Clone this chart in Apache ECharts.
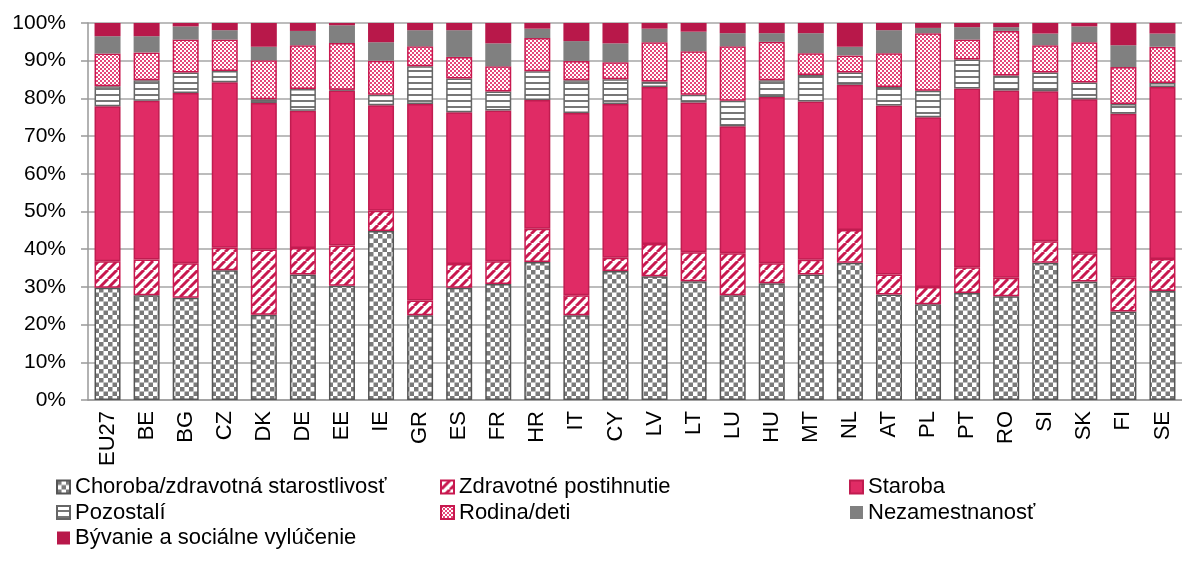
<!DOCTYPE html>
<html>
<head>
<meta charset="utf-8">
<script src="https://cdn.jsdelivr.net/npm/echarts@6.0.0/dist/echarts.min.js"></script>
<style>
  html, body { margin: 0; padding: 0; background: #fff; }
  #chart { width: 1182px; height: 565px; }
</style>
</head>
<body>
<div id="chart"></div>
<script>
  "use strict";

  const categories = ['EU27','BE','BG','CZ','DK','DE','EE','IE','GR','ES','FR','HR','IT','CY','LV','LT','LU','HU','MT','NL','AT','PL','PT','RO','SI','SK','FI','SE'];

  const choroba   = [29.8,27.8,27.1,34.4,22.6,33.3,30.3,44.8,22.5,29.8,30.8,36.6,22.5,34.2,32.8,31.5,27.8,31.0,33.3,36.4,28.0,25.4,28.4,27.5,36.4,31.4,23.5,28.9];
  const zdravotne = [7.0,9.5,9.2,6.0,17.3,7.0,10.7,5.4,3.9,6.3,6.0,8.8,5.3,3.5,8.6,7.7,11.1,5.3,3.9,8.7,5.3,4.6,6.8,4.9,5.7,7.5,8.9,8.5];
  const staroba   = [41.1,42.1,45.1,43.9,38.9,36.4,41.1,28.0,52.1,40.2,40.0,34.2,48.3,40.8,41.6,39.7,33.7,44.1,42.0,38.5,44.8,45.0,47.4,49.7,39.8,40.9,43.5,45.6];
  const pozostali = [5.3,5.4,5.5,3.0,1.0,5.8,0.2,2.8,10.0,9.0,5.0,7.6,8.7,6.6,1.5,2.1,6.8,4.4,7.0,3.3,4.9,7.0,7.7,4.0,5.0,4.4,2.6,1.1];
  const rodina    = [8.7,7.4,8.7,8.3,10.3,11.6,12.4,9.0,5.3,5.7,6.7,8.8,5.1,4.5,10.4,11.5,14.4,10.2,5.8,4.5,9.0,15.3,5.3,11.8,7.2,10.7,9.8,9.6];
  const nezam     = [4.6,4.3,3.5,2.5,3.6,3.8,4.7,4.9,4.3,7.1,6.1,2.5,5.3,5.0,3.6,5.2,3.5,2.3,5.3,2.3,6.1,1.4,3.3,1.0,3.1,4.2,5.8,3.5];
  const byvanie   = [3.5,3.5,0.9,1.9,6.3,2.1,0.6,5.1,1.9,1.9,5.4,1.5,4.8,5.4,1.5,2.3,2.7,2.7,2.7,6.3,1.9,1.3,1.1,1.1,2.8,0.9,5.9,2.8];

  const yTicks = [0, 10, 20, 30, 40, 50, 60, 70, 80, 90, 100];

  // small canvas tiles used as fill patterns
  function tile(size, draw) {
    const c = document.createElement('canvas');
    c.width = size; c.height = size;
    const ctx = c.getContext('2d');
    ctx.fillStyle = '#fff';
    ctx.fillRect(0, 0, size, size);
    draw(ctx, size);
    return { image: c, repeat: 'repeat' };
  }

  const checker = tile(9, (ctx) => {
    ctx.fillStyle = '#7a7a7a';
    ctx.fillRect(0, 0, 4.5, 4.5);
    ctx.fillRect(4.5, 4.5, 4.5, 4.5);
  });

  const stripes = tile(9, (ctx, s) => {
    ctx.strokeStyle = '#c8184f';
    ctx.lineWidth = 3;
    for (const k of [-s, 0, s]) {
      ctx.beginPath();
      ctx.moveTo(k, s);
      ctx.lineTo(k + s, 0);
      ctx.stroke();
    }
  });

  const hlines = tile(6, (ctx) => {
    ctx.fillStyle = '#777';
    ctx.fillRect(0, 4, 6, 2);
  });

  const dots = tile(4, (ctx) => {
    ctx.fillStyle = '#e6467a';
    ctx.fillRect(0, 0, 2, 2);
    ctx.fillRect(2, 2, 2, 2);
  });

  function bar(name, data, color, border) {
    return {
      name: name,
      type: 'bar',
      stack: 'total',
      barWidth: 26,
      data: data,
      itemStyle: {
        color: color,
        borderColor: border || color,
        borderWidth: border ? 1.5 : 0
      }
    };
  }

  const chart = echarts.init(document.getElementById('chart'));
  const font = 'Liberation Sans, Arial, sans-serif';
  const legendText = { fontFamily: font, fontSize: 22, color: '#000', lineHeight: 22 };

  chart.setOption({
    animation: false,
    grid: { left: 88, right: -9, top: 23, bottom: 165 },
    xAxis: {
      type: 'category',
      data: categories,
      axisLine: { lineStyle: { color: '#999', width: 1.5 } },
      axisTick: { length: 7, lineStyle: { color: '#999', width: 1.5 } },
      axisLabel: { rotate: 90, margin: 11, fontFamily: font, fontSize: 22, color: '#000' }
    },
    yAxis: {
      type: 'value',
      min: yTicks[0],
      max: yTicks[yTicks.length - 1],
      interval: 10,
      axisLine: { show: true, lineStyle: { color: '#999', width: 1.5 } },
      axisTick: { show: true, length: 7, lineStyle: { color: '#999', width: 1.5 } },
      splitLine: { lineStyle: { color: '#a6a6a6', width: 1.5 } },
      axisLabel: { formatter: '{value}%', margin: 22, fontFamily: font, fontSize: 21, color: '#000' }
    },
    legend: [
      { left: 51, top: 471, orient: 'vertical', itemGap: 3.5, icon: 'rect', itemWidth: 13, itemHeight: 13,
        textStyle: legendText, data: ['Choroba/zdravotná starostlivosť', 'Pozostalí', 'Bývanie a sociálne vylúčenie'] },
      { left: 435, top: 471, orient: 'vertical', itemGap: 3.5, icon: 'rect', itemWidth: 13, itemHeight: 13,
        textStyle: legendText, data: ['Zdravotné postihnutie', 'Rodina/deti'] },
      { left: 844, top: 471, orient: 'vertical', itemGap: 3.5, icon: 'rect', itemWidth: 13, itemHeight: 13,
        textStyle: legendText, data: ['Staroba', 'Nezamestnanosť'] }
    ],
    series: [
      bar('Choroba/zdravotná starostlivosť', choroba, checker, '#555'),
      bar('Zdravotné postihnutie', zdravotne, stripes, '#c8184f'),
      bar('Staroba', staroba, '#e02b65', '#c01c50'),
      bar('Pozostalí', pozostali, hlines, '#666'),
      bar('Rodina/deti', rodina, dots, '#c8184f'),
      bar('Nezamestnanosť', nezam, '#808080'),
      bar('Bývanie a sociálne vylúčenie', byvanie, '#b8184a')
    ]
  });

  window.addEventListener('resize', () => chart.resize());
</script>
</body>
</html>
